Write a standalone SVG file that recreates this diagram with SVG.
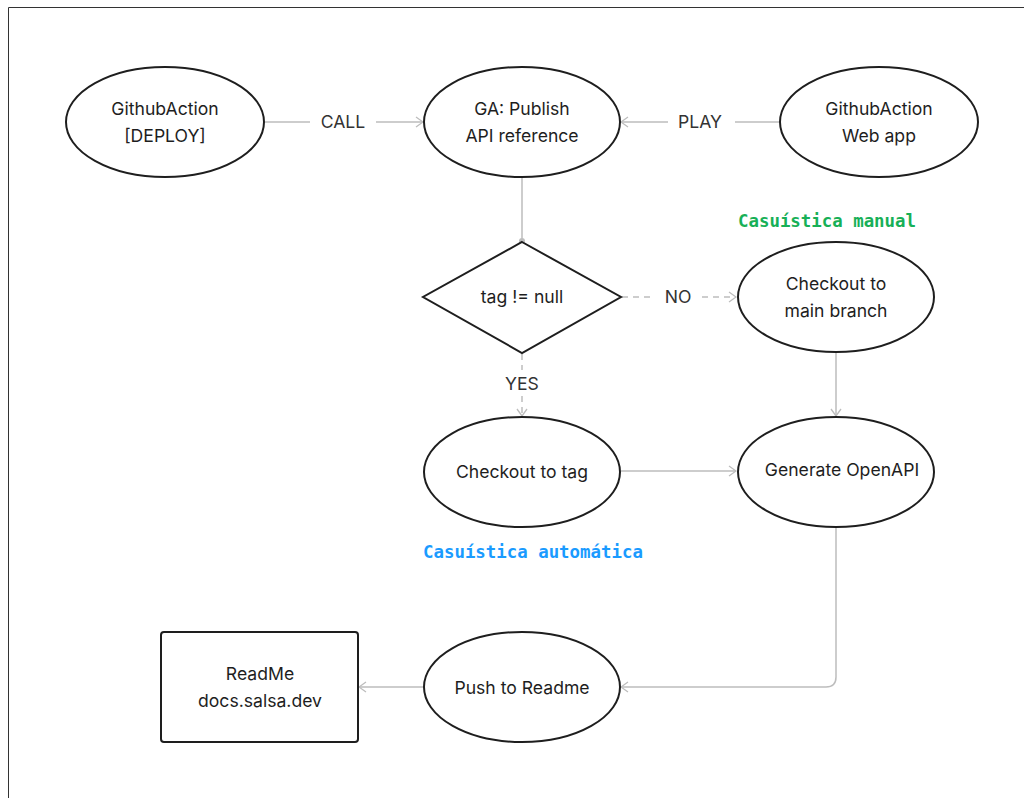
<svg xmlns="http://www.w3.org/2000/svg" width="1024" height="798" viewBox="0 0 1024 798">
<style>
.n{fill:#fff;stroke:#1e1e1e;stroke-width:2}
.t{font-family:Inter,"Liberation Sans",sans-serif;font-size:17.6px;fill:#1e1e1e;text-anchor:middle}
.c{fill:none;stroke:#bdbdbd;stroke-width:1.5}
.d{stroke-dasharray:6 5}
.lbl{font-family:Inter,"Liberation Sans",sans-serif;font-size:17.6px;fill:#333;text-anchor:middle}
.mono{font-family:"DejaVu Sans Mono","Liberation Mono",monospace;font-size:17.4px;font-weight:bold}
</style>
<defs>
<marker id="a" markerWidth="10" markerHeight="12" refX="9" refY="6" orient="auto" markerUnits="userSpaceOnUse">
<path d="M2,1 L9,6 L2,11" fill="none" stroke="#bdbdbd" stroke-width="1.3"/>
</marker>
<marker id="dot" markerWidth="8" markerHeight="8" refX="4" refY="4" markerUnits="userSpaceOnUse">
<circle cx="4" cy="4" r="3" fill="#bdbdbd"/>
</marker>
</defs>
<rect x="0" y="0" width="1024" height="798" fill="#fff"/>
<path d="M8.5,800 V7.5 H1030" fill="none" stroke="#333" stroke-width="1"/>

<g id="connectors">
<line class="c" x1="265" y1="122" x2="310" y2="122"/>
<line class="c" x1="376" y1="122" x2="423" y2="122" marker-end="url(#a)"/>
<text class="lbl" x="343" y="128">CALL</text>
<line class="c" x1="779" y1="122" x2="735" y2="122"/>
<line class="c" x1="668" y1="122" x2="621" y2="122" marker-end="url(#a)"/>
<text class="lbl" x="700" y="128">PLAY</text>
<line class="c" x1="522" y1="177" x2="522" y2="241" marker-end="url(#dot)"/>
<line class="c d" x1="622" y1="297" x2="655" y2="297"/>
<line class="c d" x1="702" y1="297" x2="736" y2="297" marker-end="url(#a)"/>
<text class="lbl" x="678" y="303">NO</text>
<line class="c d" x1="522" y1="354" x2="522" y2="370"/>
<line class="c d" x1="522" y1="396" x2="522" y2="416" marker-end="url(#a)"/>
<text class="lbl" x="522" y="390">YES</text>
<line class="c" x1="836" y1="353" x2="836" y2="416" marker-end="url(#a)"/>
<line class="c" x1="621" y1="471" x2="736" y2="471" marker-end="url(#a)"/>
<path class="c" d="M836,528 V677 Q836,687 826,687 H621" marker-end="url(#a)"/>
<line class="c" x1="423" y1="687" x2="359" y2="687" marker-end="url(#a)"/>
</g>

<g id="n-deploy">
<ellipse class="n" cx="165" cy="122" rx="99" ry="55"/>
<text class="t" x="165" y="115">GithubAction</text>
<text class="t" x="165" y="142">[DEPLOY]</text>
</g>
<g id="n-publish">
<ellipse class="n" cx="522" cy="122" rx="98" ry="55"/>
<text class="t" x="522" y="115">GA: Publish</text>
<text class="t" x="522" y="142">API reference</text>
</g>
<g id="n-webapp">
<ellipse class="n" cx="879" cy="122" rx="99" ry="55"/>
<text class="t" x="879" y="115">GithubAction</text>
<text class="t" x="879" y="142">Web app</text>
</g>
<g id="n-decision">
<polygon class="n" points="522,242 621,297 522,353 423,297"/>
<text class="t" x="522" y="303">tag != null</text>
</g>
<g id="n-main">
<ellipse class="n" cx="836" cy="297" rx="98" ry="55"/>
<text class="t" x="836" y="290">Checkout to</text>
<text class="t" x="836" y="317">main branch</text>
</g>
<g id="n-tag">
<ellipse class="n" cx="522" cy="472" rx="98" ry="55"/>
<text class="t" x="522" y="478">Checkout to tag</text>
</g>
<g id="n-generate">
<ellipse class="n" cx="836" cy="472" rx="98" ry="55"/>
<text class="t" x="842" y="476">Generate OpenAPI</text>
</g>
<g id="n-push">
<ellipse class="n" cx="522" cy="687" rx="98" ry="55"/>
<text class="t" x="522" y="694">Push to Readme</text>
</g>
<g id="n-readme">
<rect class="n" x="161" y="632" width="197" height="110" rx="3"/>
<text class="t" x="260" y="680">ReadMe</text>
<text class="t" x="260" y="707">docs.salsa.dev</text>
</g>
<text class="mono" x="827" y="227" text-anchor="middle" fill="#17b057">Casuística manual</text>
<text class="mono" x="423" y="558" fill="#1a9bff">Casuística automática</text>
</svg>
